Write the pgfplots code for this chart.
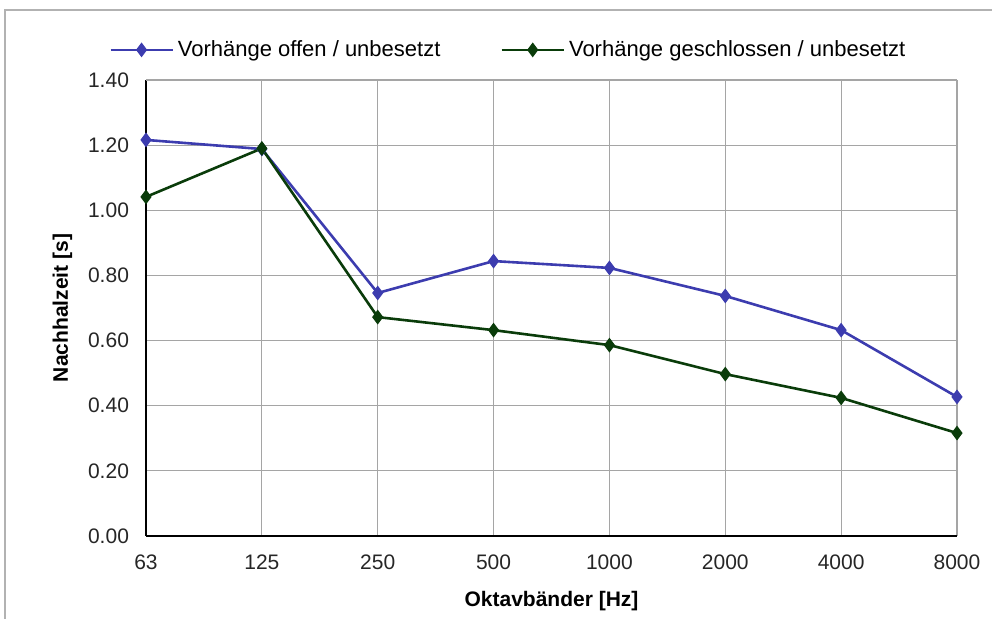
\documentclass[border=0pt]{standalone}
\usepackage{fontspec}
\setmainfont{Liberation Sans}
\usepackage{pgfplots}
\pgfplotsset{compat=1.18}
\definecolor{cblue}{RGB}{60,60,175}
\definecolor{cgreen}{RGB}{10,60,10}
\definecolor{cgrid}{RGB}{165,165,165}
\begin{document}
\begin{tikzpicture}
\begin{axis}[
  at={(73pt,41.5pt)}, anchor=south west,
  scale only axis, width=405.5pt, height=228pt,
  xmin=0, xmax=7, ymin=0, ymax=1.4,
  xtick={0,...,7},
  xticklabels={63,125,250,500,1000,2000,4000,8000},
  ytick={0,0.2,...,1.4},
  yticklabel={\pgfmathprintnumber[fixed,fixed zerofill,precision=2]{\tick}},
  /pgf/number format/assume math mode=true,
  tick label style={font=\fontsize{10.5}{12}\selectfont, text=black!85},
  xticklabel style={yshift=-6pt},
  yticklabel style={xshift=-5pt},
  grid=major,
  grid style={cgrid, line width=0.6pt},
  axis x line*=bottom, axis y line*=left,
  axis line style={black, line width=1.1pt},
  tick style={draw=none},
  xlabel={\textbf{Oktavbänder [Hz]}},
  ylabel={\textbf{Nachhalzeit [s]}},
  label style={font=\fontsize{10.5}{12}\selectfont},
  xlabel style={yshift=-4pt},
  ylabel style={yshift=1pt},
  legend columns=2,
  legend style={at={(0.448,1.066)}, anchor=center, draw=none, fill=none,
    font=\fontsize{11}{13}\selectfont, /tikz/every even column/.append style={column sep=28pt}},
  legend image code/.code={
    \draw[#1, mark repeat=2, mark phase=2] plot coordinates {(0pt,0pt) (15.5pt,0pt) (31pt,0pt)};
  },
]
\addplot[cblue, line width=1.3pt, mark=diamond*, mark size=3.3pt, mark options={fill=cblue, line width=0.5pt}] coordinates {
(0,1.216) (1,1.188) (2,0.746) (3,0.844) (4,0.823) (5,0.737) (6,0.632) (7,0.427)};
\addlegendentry{Vorhänge offen / unbesetzt}
\addplot[cgreen, line width=1.3pt, mark=diamond*, mark size=3.3pt, mark options={fill=cgreen, line width=0.5pt}] coordinates {
(0,1.041) (1,1.190) (2,0.672) (3,0.632) (4,0.586) (5,0.497) (6,0.424) (7,0.316)};
\addlegendentry{Vorhänge geschlossen / unbesetzt}
\draw[cgrid, line width=0.6pt] (rel axis cs:0,1) -- (rel axis cs:1,1);
\end{axis}
\draw[black!30, line width=0.8pt] (2.5pt,0) -- (2.5pt,304.5pt) -- (496pt,304.5pt);
\pgfresetboundingbox
\useasboundingbox (0,0) rectangle (496pt,309.5pt);
\end{tikzpicture}
\end{document}
